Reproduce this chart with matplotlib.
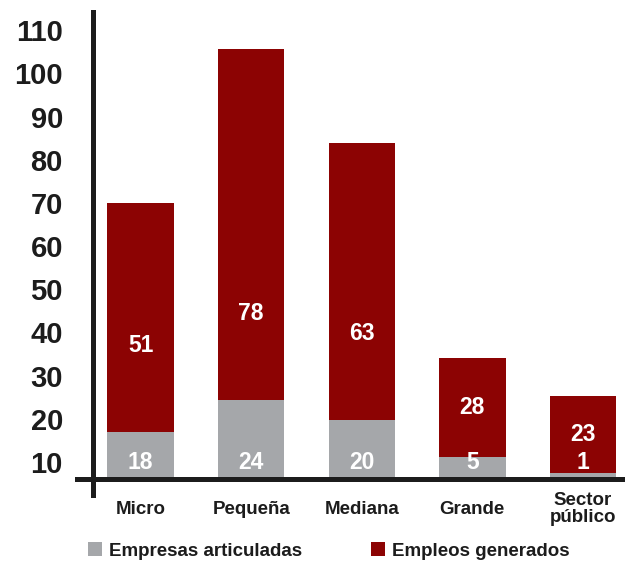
import matplotlib
matplotlib.use("Agg")
import matplotlib.pyplot as plt
import numpy as np

plt.rcParams['font.family'] = ['Liberation Sans', 'DejaVu Sans']
plt.rcParams['font.weight'] = 'bold'

# data
categories = ["Micro", "Pequeña", "Mediana", "Grande", "Sector\npúblico"]
empresas = [16.9, 24.4, 19.7, 11.2, 7.5]      # drawn height of gray part
empleos = [53.1, 81.2, 64.1, 22.8, 17.7]      # drawn height of red part
empresas_lbl = ["18", "24", "20", "5", "1"]
empleos_lbl = ["51", "78", "63", "28", "23"]
yticks = [10, 20, 30, 40, 50, 60, 70, 80, 90, 100, 110]

gray = "#a5a7aa"
red = "#8c0303"
dark = "#1c1c1c"

W, H = 625, 568
fig = plt.figure(figsize=(W / 100, H / 100), dpi=100)
ax = fig.add_axes([93 / W, 1 - 479 / H, (W - 93) / W, (479 - 12) / H])

x = np.arange(len(categories))
b1 = ax.bar(x, empresas, width=0.6, color=gray, label="Empresas articuladas", zorder=2)
b2 = ax.bar(x, empleos, width=0.6, bottom=empresas, color=red, label="Empleos generados", zorder=2)

ymin = 6.07
ax.set_ylim(ymin, 114.2)
ax.set_xlim(-0.43, 4.38)

for i in x:
    ax.text(i, 10.0, empresas_lbl[i], ha="center", va="center", color="white",
            fontsize=16.5, fontweight="bold", zorder=3)
    yr = min(empresas[i] + empleos[i] / 2, empresas[i] + 20)
    ax.text(i, yr, empleos_lbl[i], ha="center", va="center", color="white",
            fontsize=16.5, fontweight="bold", zorder=3)

for s in ["top", "right"]:
    ax.spines[s].set_visible(False)
for s in ["left", "bottom"]:
    ax.spines[s].set_linewidth(3.6)
    ax.spines[s].set_color(dark)
ax.spines["bottom"].set_bounds(-0.574, 4.38)
ax.spines["left"].set_bounds(2.36, 114.2)

ax.set_yticks(yticks)
ax.set_yticklabels([str(v) for v in yticks])
ax.tick_params(axis="y", length=0, pad=21.6, labelsize=21, labelcolor=dark)
ax.set_xticks(x)
ax.set_xticklabels(categories)
ax.tick_params(axis="x", length=0, pad=21.6, labelsize=13.5, labelcolor=dark)
for lbl in ax.get_xticklabels():
    lbl.set_va("center")
    lbl.set_linespacing(1.0)

fig.legend(handles=[b1, b2], loc="center left", bbox_to_anchor=(88 / W, 1 - 551 / H),
           ncol=2, frameon=False, fontsize=13.5, handlelength=0.75, handleheight=0.75,
           handletextpad=0.35, columnspacing=3.7, borderaxespad=0, borderpad=0,
           labelcolor=dark)

fig.savefig("out.png", dpi=100)
